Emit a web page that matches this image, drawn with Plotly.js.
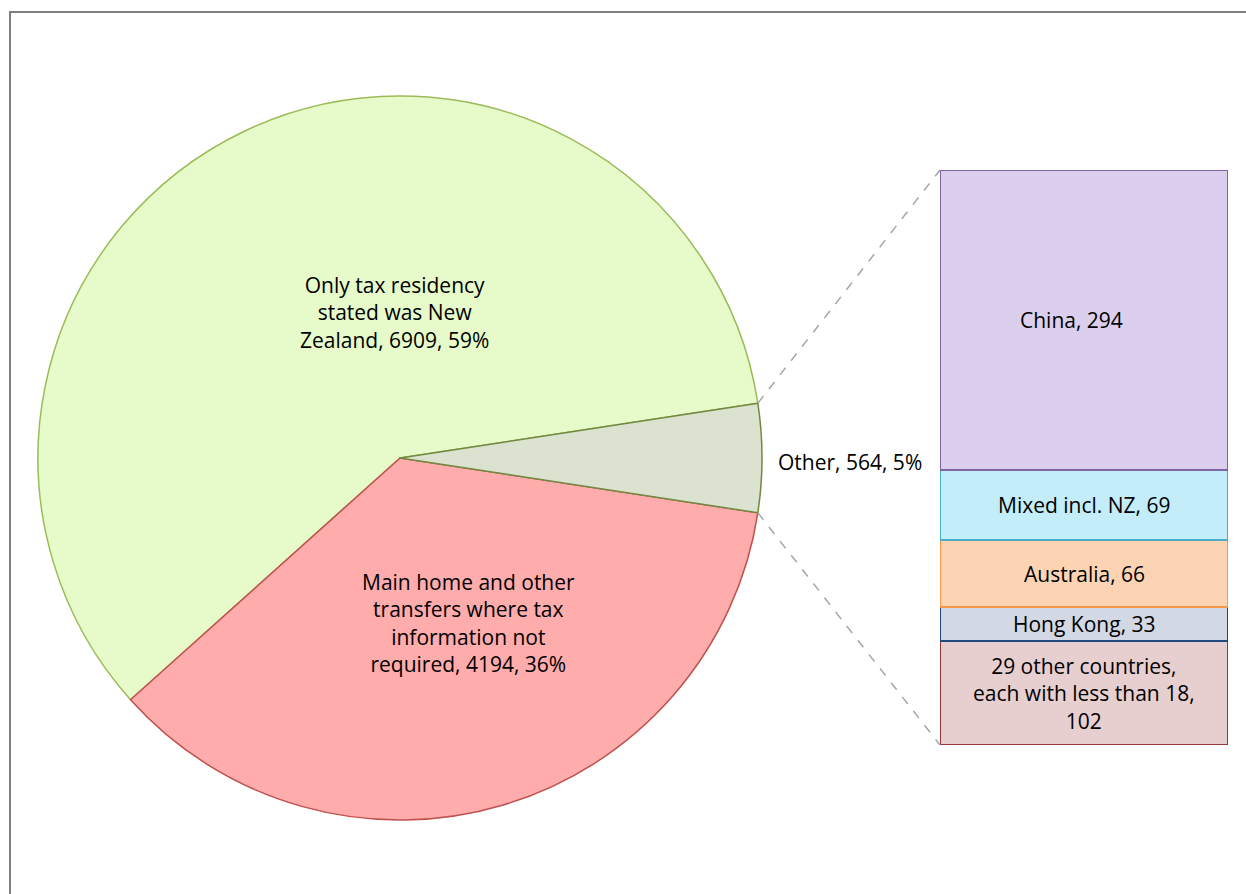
<!DOCTYPE html>
<html>
<head>
<meta charset="utf-8">
<script src="https://cdn.plot.ly/plotly-3.0.1.min.js"></script>
<style>
html,body{margin:0;padding:0;background:#fff;}
#chart{width:1246px;height:894px;}
</style>
</head>
<body>
<div id="chart"></div>
<script>
// ---- data ----
var pieLabels = ['Only tax residency stated was New Zealand', 'Main home and other transfers where tax information not required', 'Other'];
var pieValues = [6909, 4194, 564];
var piePercents = ['59%', '36%', '5%'];
var pieLabelLines = [
  ['Only tax residency', 'stated was New', 'Zealand, 6909, 59%'],
  ['Main home and other', 'transfers where tax', 'information not', 'required, 4194, 36%'],
  ['Other, 564, 5%']
];
var barLabels = ['China', 'Mixed incl. NZ', 'Australia', 'Hong Kong', '29 other countries, each with less than 18'];
var barValues = [294, 69, 66, 33, 102];
var barLabelLines = [
  ['China, 294'],
  ['Mixed incl. NZ, 69'],
  ['Australia, 66'],
  ['Hong Kong, 33'],
  ['29 other countries,', 'each with less than 18,', '102']
];

// ---- styles ----
var W = 1246, H = 894;
var FONT = 'Open Sans, sans-serif';
var FS = 21;
var pieFill = ['#e6fbc9', '#ffacac', '#dbe2cf'];
var pieLine = ['#9bbb59', '#c0504d', '#71893f'];
var barFill = ['#dccfee', '#c3edf9', '#fcd4b3', '#d3d9e4', '#e7cfcf'];
var barLine = ['#8064a2', '#4bacc6', '#f79646', '#1f497d', '#953735'];

// layout geometry (pixels)
var pieCx = 400, pieCy = 458, pieR = 362;
var barX0 = 940, barX1 = 1228, barTop = 170, barBot = 745;
function px(x) { return x / W; }
function py(y) { return 1 - y / H; }

var total = pieValues.reduce(function (a, b) { return a + b; }, 0);
var otherIdx = 2;
var otherHalfDeg = pieValues[otherIdx] / total * 360 / 2;
var firstDeg = pieValues[0] / total * 360;

// counterclockwise: first slice occupies [rotation, rotation + firstDeg] clockwise from 12 o'clock
var pieTrace = {
  type: 'pie',
  labels: pieLabels,
  values: pieValues,
  sort: false,
  direction: 'counterclockwise',
  rotation: (90 - otherHalfDeg) - firstDeg,
  textinfo: 'none',
  hoverinfo: 'none',
  showlegend: false,
  marker: { colors: pieFill, line: { color: pieLine, width: 1.5 } },
  domain: { x: [px(pieCx - pieR), px(pieCx + pieR)], y: [py(pieCy + pieR), py(pieCy - pieR)] }
};

var traces = [pieTrace];
var barTotal = barValues.reduce(function (a, b) { return a + b; }, 0);
for (var i = barValues.length - 1; i >= 0; i--) {
  traces.push({
    type: 'bar',
    x: [0],
    y: [barValues[i]],
    name: barLabels[i],
    width: 1,
    xaxis: 'x2',
    yaxis: 'y2',
    hoverinfo: 'none',
    showlegend: false,
    marker: { color: barFill[i], line: { color: barLine[i], width: 1.8 } }
  });
}

var annotations = [];
// pie label positions (pixels)
var pieLabelPos = [[395, 313], [469, 623], [850, 462]];
for (var j = 0; j < pieLabelLines.length; j++) {
  annotations.push({
    xref: 'paper', yref: 'paper',
    x: px(pieLabelPos[j][0]), y: py(pieLabelPos[j][1]),
    xanchor: 'center', yanchor: 'middle', align: 'center',
    text: pieLabelLines[j].join('<br>'),
    showarrow: false,
    font: { family: FONT, size: FS, color: '#000' }
  });
}
// bar labels at centres of the stacked segments (from data)
var cum = barTotal;
var barXShift = [-13, 0, 0, 0, 0];
for (var k = 0; k < barValues.length; k++) {
  var mid = cum - barValues[k] / 2;
  cum -= barValues[k];
  annotations.push({
    xref: 'x2', yref: 'y2', x: 0, y: mid,
    xshift: barXShift[k],
    xanchor: 'center', yanchor: 'middle', align: 'center',
    text: barLabelLines[k].join('<br>'),
    showarrow: false,
    font: { family: FONT, size: FS, color: '#000' }
  });
}

// connector lines from Other slice edges to the bar
var a = otherHalfDeg * Math.PI / 180;
var eTop = [pieCx + pieR * Math.cos(a), pieCy - pieR * Math.sin(a)];
var eBot = [pieCx + pieR * Math.cos(a), pieCy + pieR * Math.sin(a)];
var shapes = [
  { type: 'line', xref: 'paper', yref: 'paper', x0: px(eTop[0]), y0: py(eTop[1]), x1: px(barX0), y1: py(barTop),
    line: { color: '#a6a6a6', width: 1.5, dash: 'dash' } },
  { type: 'line', xref: 'paper', yref: 'paper', x0: px(eBot[0]), y0: py(eBot[1]), x1: px(barX0), y1: py(barBot),
    line: { color: '#a6a6a6', width: 1.5, dash: 'dash' } },
  { type: 'rect', xref: 'paper', yref: 'paper', x0: px(10), y0: -0.02, x1: 1.02, y1: py(12),
    line: { color: '#808080', width: 2 }, layer: 'below' }
];

var layout = {
  width: W, height: H,
  margin: { l: 0, r: 0, t: 0, b: 0, pad: 0 },
  paper_bgcolor: '#ffffff',
  plot_bgcolor: 'rgba(0,0,0,0)',
  barmode: 'stack',
  hovermode: false,
  showlegend: false,
  xaxis2: { domain: [px(barX0), px(barX1)], range: [-0.5, 0.5], visible: false, fixedrange: true, anchor: 'y2' },
  yaxis2: { domain: [py(barBot), py(barTop)], range: [0, barTotal], visible: false, fixedrange: true, anchor: 'x2' },
  annotations: annotations,
  shapes: shapes,
  font: { family: FONT }
};

Plotly.newPlot('chart', traces, layout, { displayModeBar: false, staticPlot: true });
</script>
</body>
</html>
